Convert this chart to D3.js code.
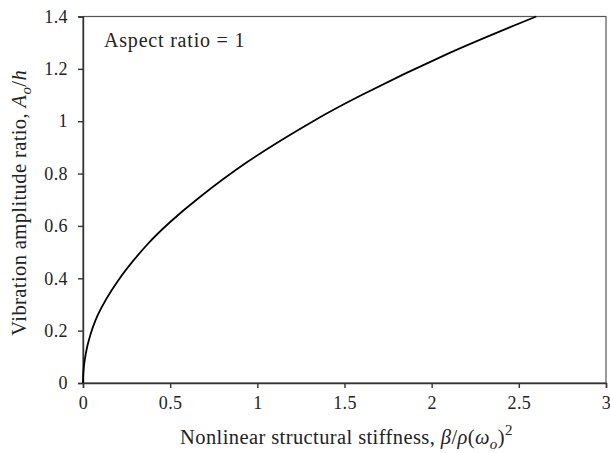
<!DOCTYPE html>
<html lang="en">
<head>
<meta charset="UTF-8">
<script src="https://cdn.jsdelivr.net/npm/d3@7"></script>
<title>Amplitude vs stiffness</title>
<style>
  body { margin: 0; background: #fff; }
  svg text { font-family: "Liberation Serif", "DejaVu Serif", serif; fill: #222; }
  .axis text { font-size: 18px; letter-spacing: 0.4px; }
  .axis path, .axis line { stroke: #333; }
  .lbl { letter-spacing: 0.4px; }
</style>
</head>
<body>
<div id="chart"></div>
<script>
// values
var stiffness = [0, 0.002, 0.01, 0.03, 0.085, 0.2, 0.37, 0.5, 0.66, 0.94, 1.32, 1.59, 2.1, 2.6];
var amplitude = [0, 0.04, 0.088, 0.155, 0.26, 0.39, 0.53, 0.615, 0.705, 0.843, 1.0, 1.097, 1.26, 1.40];
var xTicks = [0, 0.5, 1, 1.5, 2, 2.5, 3];
var yTicks = [0, 0.2, 0.4, 0.6, 0.8, 1, 1.2, 1.4];

const width = 610, height = 453;
const margin = {top: 16.5, right: 4, bottom: 70, left: 83};
const gw = width - margin.left - margin.right;
const gh = height - margin.top - margin.bottom;

const svg = d3.select("#chart").append("svg")
  .attr("width", width).attr("height", height);

const g = svg.append("g")
  .attr("transform", `translate(${margin.left},${margin.top})`);

const x = d3.scaleLinear().domain([0, 3]).range([0, gw]);
const y = d3.scaleLinear().domain([0, 1.4]).range([gh, 0]);

// frame
g.append("rect").attr("width", gw).attr("height", gh)
  .attr("fill", "none").attr("stroke", "#555").attr("stroke-width", 1.2);

g.append("g").attr("class", "axis")
  .attr("transform", `translate(0,${gh})`)
  .call(d3.axisBottom(x).tickValues(xTicks).tickFormat(d3.format("")).tickSize(5).tickPadding(8))
  .call(a => a.selectAll("path,line").attr("stroke-width", 1.4));

g.append("g").attr("class", "axis")
  .call(d3.axisLeft(y).tickValues(yTicks).tickFormat(d3.format("")).tickSize(5).tickPadding(10))
  .call(a => a.selectAll("path,line").attr("stroke-width", 1.4));

// curve
const pts = stiffness.map((s, i) => [s, amplitude[i]]);
g.append("path").datum(pts)
  .attr("fill", "none").attr("stroke", "#000").attr("stroke-width", 1.8)
  .attr("d", d3.line().x(d => x(d[0])).y(d => y(d[1])).curve(d3.curveCatmullRom.alpha(0.5)));

// annotation
g.append("text").attr("x", 21).attr("y", 30.5).attr("font-size", 20)
  .attr("letter-spacing", "0.8px")
  .text("Aspect ratio = 1");

// x label
const xl = svg.append("text").attr("class", "lbl").attr("x", margin.left + gw / 2 + 2).attr("y", 444)
  .attr("text-anchor", "middle").attr("font-size", 20.5);
xl.append("tspan").text("Nonlinear structural stiffness, ");
xl.append("tspan").attr("font-style", "italic").text("β");
xl.append("tspan").text("/");
xl.append("tspan").attr("font-style", "italic").text("ρ");
xl.append("tspan").text("(");
xl.append("tspan").attr("font-style", "italic").text("ω");
xl.append("tspan").attr("font-style", "italic").attr("font-size", 15).attr("dy", 5).text("o");
xl.append("tspan").attr("dy", -5).text(")");
xl.append("tspan").attr("font-size", 15).attr("dy", -9).text("2");

// y label
const yl = svg.append("text").attr("class", "lbl")
  .attr("transform", `translate(26,${margin.top + gh / 2 + 3}) rotate(-90)`)
  .attr("text-anchor", "middle").attr("font-size", 20.5);
yl.append("tspan").text("Vibration amplitude ratio, ");
yl.append("tspan").attr("font-style", "italic").text("A");
yl.append("tspan").attr("font-style", "italic").attr("font-size", 15).attr("dy", 5).text("o");
yl.append("tspan").attr("dy", -5).text("/");
yl.append("tspan").attr("font-style", "italic").text("h");
</script>
</body>
</html>
